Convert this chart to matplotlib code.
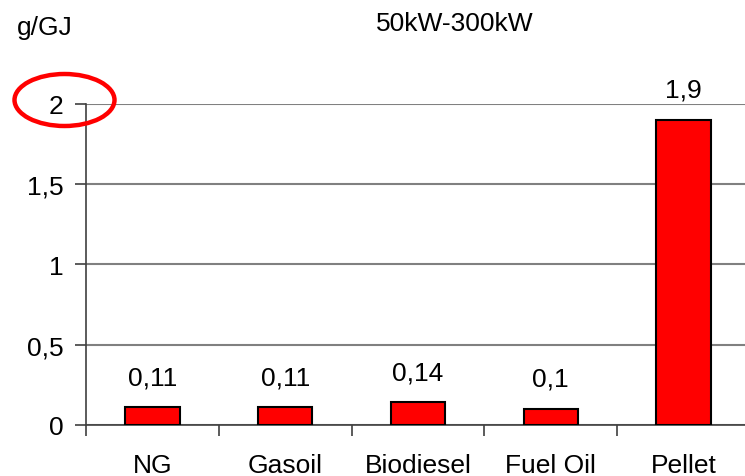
import matplotlib
matplotlib.use('Agg')
import matplotlib.pyplot as plt
from matplotlib.patches import Ellipse

# datos
categorias = ['NG', 'Gasoil', 'Biodiesel', 'Fuel Oil', 'Pellet']
valores = [0.11, 0.11, 0.14, 0.1, 1.9]
etiquetas_valor = ['0,11', '0,11', '0,14', '0,1', '1,9']
ticks_y = [0, 0.5, 1, 1.5, 2]
etiquetas_y = ['0', '0,5', '1', '1,5', '2']

plt.rcParams['font.family'] = ['Liberation Sans', 'DejaVu Sans']
fs = 19

fig = plt.figure(figsize=(7.45, 4.77), dpi=100, facecolor='white')
# el eje se sale un poco por la derecha, como en la imagen original
ax = fig.add_axes([86 / 745, 51 / 477, 664 / 745, 321.5 / 477])
ax.set_facecolor('white')

x = list(range(len(categorias)))
ax.bar(x, valores, width=0.41, color='#ff0000', edgecolor='black', linewidth=1.5, zorder=3)

for xi, v, txt in zip(x, valores, etiquetas_valor):
    ax.annotate(txt, (xi, v), xytext=(0, 13), textcoords='offset points',
                ha='center', va='bottom', fontsize=fs)

ax.set_xlim(-0.5, 4.5)
ax.set_ylim(0, 2)
ax.set_yticks(ticks_y)
ax.set_yticklabels(etiquetas_y, fontsize=fs)
ax.yaxis.grid(True, color='#808080', linewidth=1.5, zorder=0)

# ticks del eje x entre categorias
ax.set_xticks([i + 0.5 for i in range(-1, 5)], minor=False)
ax.set_xticklabels([])
ax.set_xticks(x, minor=True)
ax.set_xticklabels(categorias, minor=True, fontsize=fs)
ax.tick_params(axis='x', which='minor', length=0, pad=20)
ax.tick_params(axis='x', which='major', length=8, width=1.2, color='#404040', direction='out')
ax.tick_params(axis='y', length=8, width=1.2, color='#404040', direction='out', pad=8)

for lado in ['top', 'right']:
    ax.spines[lado].set_visible(False)
for lado in ['left', 'bottom']:
    ax.spines[lado].set_color('#404040')
    ax.spines[lado].set_linewidth(1.2)

fig.text(17 / 745, 1 - 35 / 477, 'g/GJ', fontsize=fs, ha='left', va='baseline')
fig.text(455 / 745, 1 - 31 / 477, '50kW-300kW', fontsize=fs, ha='center', va='baseline')

# circulo rojo alrededor del 2
elipse = Ellipse((64.5 / 745, 1 - 101 / 477), 100 / 745, 52 / 477, transform=fig.transFigure,
                 fill=False, edgecolor='#ff0000', linewidth=3.2)
fig.patches.append(elipse)

fig.savefig('out.png', dpi=100, facecolor='white')
